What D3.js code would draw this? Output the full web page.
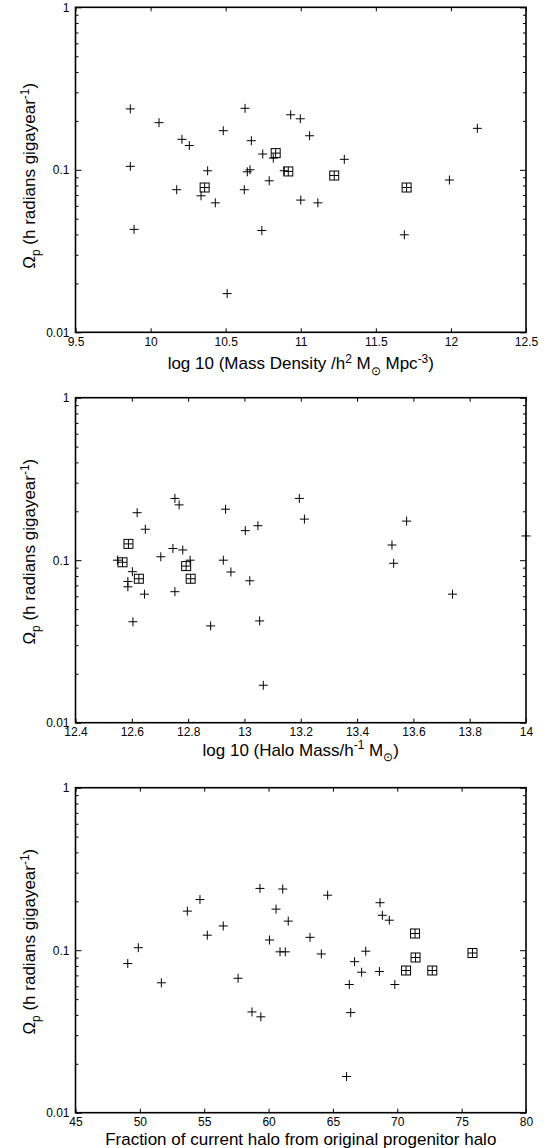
<!DOCTYPE html>
<html>
<head>
<meta charset="utf-8">
<script src="https://cdn.jsdelivr.net/npm/d3@7"></script>
<style>
body { margin: 0; background: #fff; }
svg { display: block; font-family: "Liberation Sans", Arial, Helvetica, sans-serif; }
</style>
</head>
<body>
<div class="svg-container"></div>
<script>
// pattern speed Omega_p (h radians / gigayear) against three halo properties
// "plus" = ordinary halos, "boxed" = halos drawn with the extra square

var densityPlus = [
    [9.865,0.237],[9.865,0.105],[10.056,0.195],[10.209,0.154],[10.258,0.141],[10.484,0.174],
    [10.629,0.239],[10.671,0.151],[10.38,0.0986],[10.174,0.0754],[10.336,0.0692],[10.624,0.0754],
    [10.644,0.0972],[10.662,0.1],[10.747,0.125],[10.79,0.0856],[10.817,0.118],[10.933,0.218],
    [10.997,0.206],[11.059,0.162],[11.29,0.116],[10.89,0.0986],[11.99,0.0865],[12.176,0.18],
    [11.0,0.0651],[11.114,0.0626],[10.431,0.0626],[9.89,0.043],[10.741,0.0423],[11.69,0.0398],
    [10.51,0.0173]
];
var densityBoxed = [[10.36,0.0778],[10.833,0.1267],[10.917,0.0977],[11.223,0.0922],[11.705,0.0778]];

var haloPlus = [
    [12.753,0.24],[12.768,0.219],[12.619,0.196],[12.648,0.155],[12.933,0.206],[13.003,0.152],
    [13.048,0.163],[12.746,0.118],[12.781,0.1156],[12.703,0.105],[13.195,0.24],[13.213,0.179],
    [13.576,0.174],[13.524,0.124],[14.0,0.141],[12.549,0.1],[12.602,0.085],[12.586,0.074],
    [12.586,0.0686],[12.645,0.0618],[12.604,0.0418],[12.753,0.064],[12.807,0.1],[12.925,0.1],
    [12.952,0.0846],[13.019,0.0747],[12.88,0.0394],[13.054,0.0423],[13.067,0.017],[13.53,0.0957],
    [13.739,0.0618]
];
var haloBoxed = [[12.588,0.126],[12.567,0.0971],[12.625,0.0769],[12.793,0.092],[12.809,0.0769]];

var fractionPlus = [
    [54.67,0.205],[53.69,0.174],[56.48,0.141],[55.24,0.1237],[59.33,0.24],[61.1,0.238],
    [60.58,0.179],[61.53,0.151],[64.59,0.218],[68.66,0.196],[68.84,0.164],[69.38,0.153],
    [63.22,0.12],[49.06,0.0828],[49.88,0.1036],[51.67,0.063],[57.63,0.0672],[58.71,0.0417],
    [59.4,0.0389],[60.07,0.1156],[60.89,0.0977],[61.3,0.0977],[64.1,0.0948],[66.68,0.085],
    [67.55,0.0986],[66.27,0.0615],[67.23,0.0732],[68.61,0.0739],[69.81,0.0615],[66.38,0.0413],
    [66.06,0.0167]
];
var fractionBoxed = [[71.38,0.1267],[70.68,0.075],[71.42,0.0902],[72.72,0.075],[75.84,0.0961]];

var densityTicks = [9.5, 10, 10.5, 11, 11.5, 12, 12.5];
var haloTicks = [12.4, 12.6, 12.8, 13, 13.2, 13.4, 13.6, 13.8, 14];
var fractionTicks = [45, 50, 55, 60, 65, 70, 75, 80];
var omegaTicks = [0.01, 0.1, 1];
var omegaMinor = [0.02,0.03,0.04,0.05,0.06,0.07,0.08,0.09,0.2,0.3,0.4,0.5,0.6,0.7,0.8,0.9];

// axis titles: [text, "" | "sup" | "sub"]
var densityTitle = [["log 10 (Mass Density /h",""],["2","sup"],[" M",""],["\u2299","sub"],[" Mpc",""],["-3","sup"],[")",""]];
var haloTitle = [["log 10 (Halo Mass/h",""],["-1","sup"],[" M",""],["\u2299","sub"],[")",""]];
var fractionTitle = [["Fraction of current halo from original progenitor halo",""]];
var omegaTitle = [["\u03A9",""],["p","sub"],[" (h radians gigayear",""],["-1","sup"],[")",""]];

var W = 549, H = 1148;
var left = 75.5, plotW = 450.5, plotH = 325;
var titleSize = 17, tickSize = 12;

var svg = d3.select(".svg-container").append("svg")
    .attr("width", W)
    .attr("height", H);

function richText(sel, parts, size) {
    var shift = 0;
    parts.forEach(function(p) {
        var target = p[1] == "sup" ? -0.38 * size : (p[1] == "sub" ? 0.32 * size : 0);
        sel.append("tspan")
            .attr("dy", target - shift)
            .style("font-size", (p[1] ? size * 0.7 : size) + "px")
            .text(p[0]);
        shift = target;
    });
}

function drawPanel(top, plus, boxed, ticks, title, titleGap, yTitleMid) {
    var g = svg.append("g").attr("transform", "translate(" + left + "," + top + ")");

    var x = d3.scaleLinear().domain([ticks[0], ticks[ticks.length - 1]]).range([0, plotW]);
    var y = d3.scaleLog().domain([0.01, 1]).range([plotH, 0]);

    // bottom + top
    g.append("g")
        .attr("transform", "translate(0," + plotH + ")")
        .call(d3.axisBottom(x).tickValues(ticks).tickSize(-4).tickPadding(5)
            .tickFormat(function(d) { return String(d); }));
    g.append("g")
        .call(d3.axisTop(x).tickValues(ticks).tickSize(-4).tickFormat(""));

    // left + right, major and minor
    g.append("g")
        .call(d3.axisLeft(y).tickValues(omegaTicks).tickSize(-6).tickPadding(6)
            .tickFormat(function(d) { return String(d); }));
    g.append("g")
        .call(d3.axisLeft(y).tickValues(omegaMinor).tickSize(-3).tickFormat(""));
    g.append("g")
        .attr("transform", "translate(" + plotW + ",0)")
        .call(d3.axisRight(y).tickValues(omegaTicks).tickSize(-6).tickFormat(""));
    g.append("g")
        .attr("transform", "translate(" + plotW + ",0)")
        .call(d3.axisRight(y).tickValues(omegaMinor).tickSize(-3).tickFormat(""));

    g.selectAll(".domain").remove();
    g.selectAll(".tick line").attr("stroke", "#000").attr("stroke-width", 1);
    g.selectAll(".tick text")
        .attr("fill", "#000")
        .style("font-size", tickSize + "px")
        .style("font-family", "\"Liberation Sans\", Arial, sans-serif");

    // frame
    g.append("rect")
        .attr("width", plotW)
        .attr("height", plotH)
        .attr("fill", "none")
        .attr("stroke", "#000")
        .attr("stroke-width", 1.6);

    // markers
    var all = plus.concat(boxed);
    g.selectAll(".pt")
        .data(all)
        .enter().append("path")
        .attr("class", "pt")
        .attr("transform", function(d) { return "translate(" + x(d[0]) + "," + y(d[1]) + ")"; })
        .attr("d", "M-4.5,0H4.5M0,-4.5V4.5")
        .attr("stroke", "#000")
        .attr("stroke-width", 1)
        .attr("fill", "none");

    g.selectAll(".box")
        .data(boxed)
        .enter().append("rect")
        .attr("class", "box")
        .attr("x", function(d) { return x(d[0]) - 4.5; })
        .attr("y", function(d) { return y(d[1]) - 4.5; })
        .attr("width", 9)
        .attr("height", 9)
        .attr("stroke", "#000")
        .attr("stroke-width", 1)
        .attr("fill", "none");

    // x title
    var xt = g.append("text")
        .attr("x", plotW / 2)
        .attr("y", plotH + titleGap)
        .attr("text-anchor", "middle")
        .attr("fill", "#000");
    richText(xt, title, titleSize);

    // y title
    var yt = g.append("text")
        .attr("transform", "translate(" + (35 - left) + "," + yTitleMid + ") rotate(-90)")
        .attr("text-anchor", "middle")
        .attr("fill", "#000");
    richText(yt, omegaTitle, titleSize);
}

drawPanel(7.3, densityPlus, densityBoxed, densityTicks, densityTitle, 37, 168.5);
drawPanel(397.7, haloPlus, haloBoxed, haloTicks, haloTitle, 33, 154);
drawPanel(787.7, fractionPlus, fractionBoxed, fractionTicks, fractionTitle, 32.3, 154);
</script>
</body>
</html>
